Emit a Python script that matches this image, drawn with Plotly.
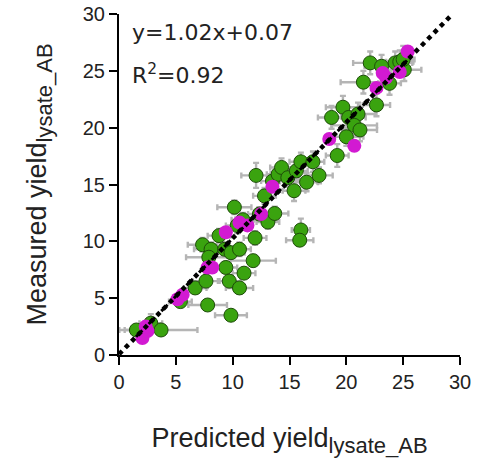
import plotly.graph_objects as go

# Green (measured) points
green_x = [1.53, 2.8, 3.7, 7.8, 9.85, 5.4, 6.7, 7.65, 7.35, 8.1, 7.9, 8.8, 9.3, 9.85, 9.4, 9.7,
           10.6, 11.0, 10.6, 10.15, 10.4, 10.9, 11.97, 11.8, 12.35, 13.1, 13.7, 12.8, 12.06, 13.5,
           14.0, 14.3, 14.85, 15.4, 15.6, 16.0, 16.5, 17.06, 17.6, 16.0, 15.9, 19.2, 18.7, 19.7,
           20.2, 21.03, 20.7, 21.2, 20.0, 22.65, 21.5, 22.1, 23.1, 23.8, 24.3, 24.7, 25.1, 25.0]
green_y = [2.2, 2.8, 2.2, 4.4, 3.5, 4.7, 5.9, 6.5, 9.7, 9.3, 8.6, 10.5, 9.3, 9.0, 7.7, 6.5,
           5.9, 7.2, 9.3, 13.0, 11.4, 11.9, 10.3, 8.3, 12.4, 11.7, 12.45, 14.0, 15.8, 15.3,
           15.9, 16.5, 15.6, 14.45, 16.2, 17.0, 15.2, 17.0, 15.8, 11.0, 10.1, 17.55, 20.9, 21.8,
           20.9, 21.2, 20.2, 19.8, 19.2, 22.0, 24.0, 25.7, 25.4, 23.9, 25.7, 25.8, 25.1, 26.0]
green_xerr = [1.5, 1.0, 3.2, 1.7, 1.4, 1.0, 1.0, 1.2, 1.3, 1.5, 2.0, 1.0, 1.0, 1.2, 1.0, 1.0,
              1.2, 1.0, 1.0, 1.5, 1.0, 1.0, 1.0, 2.0, 1.0, 1.0, 1.2, 1.0, 1.3, 1.0,
              1.0, 1.0, 1.0, 1.0, 1.0, 1.0, 1.0, 1.0, 1.2, 0.8, 1.2, 1.0, 1.2, 1.5,
              1.5, 1.5, 2.0, 1.5, 1.5, 1.2, 2.0, 1.5, 1.5, 1.0, 1.5, 1.2, 1.5, 1.0]
green_yerr = [0.4, 0.8, 0.4, 0.4, 0.4, 0.5, 0.5, 0.6, 0.6, 0.6, 0.5, 0.6, 0.6, 0.5, 0.5, 0.5,
              0.5, 0.5, 0.6, 0.6, 0.7, 0.6, 0.6, 0.5, 0.6, 0.6, 0.6, 0.7, 1.1, 0.8,
              0.8, 0.8, 0.8, 0.9, 0.8, 0.8, 0.8, 0.9, 0.7, 1.0, 0.5, 1.0, 1.0, 1.0,
              0.9, 1.0, 1.0, 1.0, 0.8, 1.0, 1.0, 1.0, 1.0, 1.0, 1.0, 1.0, 1.0, 1.2]

# Magenta points
mag_x = [2.06, 2.5, 2.35, 5.15, 5.6, 7.8, 8.2, 9.4, 10.6, 11.3, 12.5, 13.5, 18.5, 20.7,
         22.65, 23.2, 23.5, 24.7, 25.4]
mag_y = [1.5, 2.1, 2.5, 4.9, 5.3, 7.7, 7.7, 10.8, 11.65, 11.4, 12.4, 14.8, 19.0, 18.4,
         23.5, 24.8, 24.4, 24.9, 26.7]

# Regression line
slope = 1.02
intercept = 0.07
line_x = [0, 29.3]
fit_x = [1.5, 25.5]

eq_text = "y=1.02x+0.07"
r2_text = "R<sup>2</sup>=0.92"
x_title = "Predicted yield<sub><span style='font-size:22px'>lysate_AB</span></sub>"
y_title = "Measured yield<sub><span style='font-size:22px'>lysate_AB</span></sub>"

fig = go.Figure()
fig.add_trace(go.Scatter(
    x=green_x, y=green_y, mode="markers",
    error_x=dict(type="data", array=green_xerr, color="#b5b5b5", thickness=2.4, width=3),
    error_y=dict(type="data", array=green_yerr, color="#b5b5b5", thickness=2.4, width=3),
    marker=dict(size=14, color="#3aa30f", line=dict(color="#1e4d0a", width=1)),
    showlegend=False))
fig.add_trace(go.Scatter(
    x=mag_x, y=mag_y, mode="markers",
    marker=dict(size=14, color="#d21ad2", line=dict(width=0)),
    showlegend=False))
fig.add_trace(go.Scatter(
    x=fit_x, y=[slope * v + intercept for v in fit_x], mode="lines",
    line=dict(color="black", width=3, dash="dash"), showlegend=False))
fig.add_trace(go.Scatter(
    x=line_x, y=[slope * v + intercept for v in line_x], mode="lines",
    line=dict(color="black", width=4.5, dash="dot"), showlegend=False))

fig.add_annotation(x=0, y=1, xref="paper", yref="paper", xanchor="left", yanchor="top",
                   xshift=11, yshift=-4, text=eq_text, showarrow=False,
                   font=dict(family="DejaVu Sans", size=22, color="#222"))
fig.add_annotation(x=0, y=1, xref="paper", yref="paper", xanchor="left", yanchor="top",
                   xshift=11, yshift=-44, text=r2_text, showarrow=False,
                   font=dict(family="DejaVu Sans", size=22, color="#222"))

axis_common = dict(range=[0, 30], tickvals=[0, 5, 10, 15, 20, 25, 30], showline=True,
                   linecolor="black", linewidth=2, ticks="outside", ticklen=8, tickwidth=2,
                   tickcolor="black", showgrid=False, zeroline=False,
                   tickfont=dict(family="Liberation Sans", size=20, color="#222"))
fig.update_xaxes(**axis_common,
                 title=dict(text=x_title, standoff=36,
                            font=dict(family="Liberation Sans", size=27, color="#222")))
fig.update_yaxes(**axis_common,
                 title=dict(text=y_title, standoff=28,
                            font=dict(family="Liberation Sans", size=27, color="#222")))

fig.update_layout(width=485, height=462, margin=dict(l=119, r=25, t=14, b=107, autoexpand=False),
                  plot_bgcolor="white", paper_bgcolor="white")
fig.write_html("out.html", config={"displayModeBar": False},
               post_script="document.body.style.margin='0';")
